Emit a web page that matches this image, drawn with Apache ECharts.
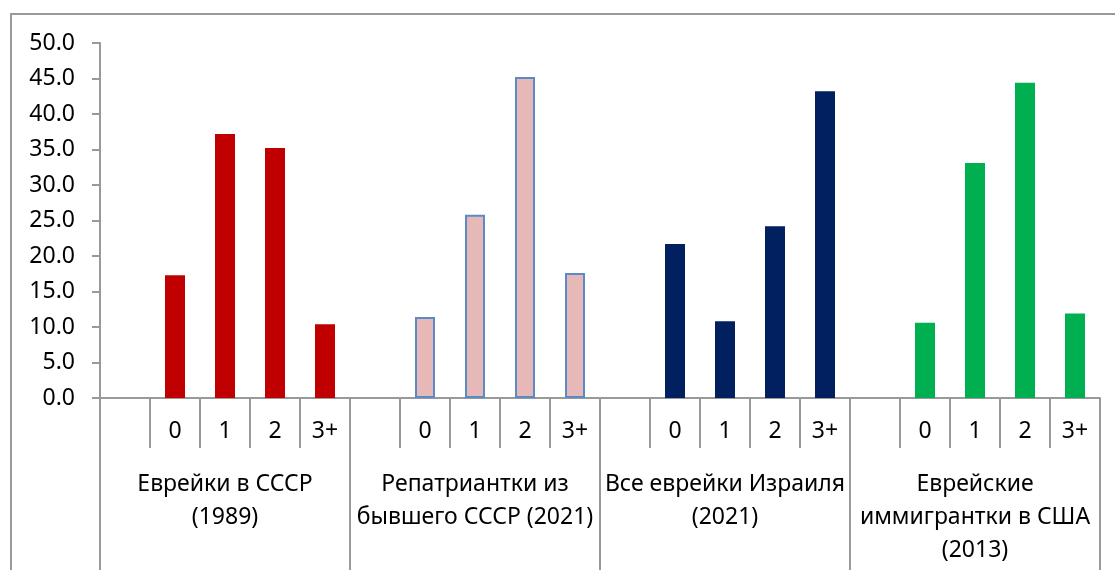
<!DOCTYPE html>
<html>
<head>
<meta charset="utf-8">
<script src="https://cdn.jsdelivr.net/npm/echarts@6/dist/echarts.min.js"></script>
<style>
html,body{margin:0;padding:0;background:#fff;}
#chart{width:1115px;height:570px;}
</style>
</head>
<body>
<div id="chart"></div>
<script>
var groups = ['Еврейки в СССР\n(1989)', 'Репатриантки из\nбывшего СССР (2021)', 'Все еврейки Израиля\n(2021)', 'Еврейские\nиммигрантки в США\n(2013)'];
var kids = ['', '0', '1', '2', '3+'];
var ussr1989 = [17.3, 37.2, 35.2, 10.4];
var repat2021 = [11.4, 25.8, 45.2, 17.6];
var israel2021 = [21.7, 10.8, 24.2, 43.2];
var usa2013 = [10.6, 33.1, 44.4, 11.9];
var yTicks = [0, 5, 10, 15, 20, 25, 30, 35, 40, 45, 50];

var colors = ['#C00000', '#E6B9B8', '#002060', '#00B050'];
var sets = [ussr1989, repat2021, israel2021, usa2013];
var font = 'Noto Sans';

// flat list of categories: each group has a blank slot + 0,1,2,3+
var cats = [];
groups.forEach(function (g, gi) {
    kids.forEach(function (k) { cats.push(k); });
});

var series = sets.map(function (vals, gi) {
    var d = cats.map(function () { return null; });
    vals.forEach(function (v, i) { d[gi * kids.length + 1 + i] = v; });
    var s = {
        type: 'bar',
        xAxisIndex: 0,
        data: d,
        barWidth: 20,
        barGap: '-100%',
        itemStyle: { color: colors[gi] }
    };
    if (gi == 1) {
        s.itemStyle.borderColor = '#5B8BC6';
        s.itemStyle.borderWidth = 2;
    }
    return s;
});

var chart = echarts.init(document.getElementById('chart'));
chart.setOption({
    animation: false,
    graphic: [{
        type: 'rect',
        shape: { x: 11, y: 14, width: 1300, height: 800 },
        style: { fill: 'none', stroke: '#999', lineWidth: 2 }
    }],
    grid: { left: 100, right: 15, top: 43, bottom: 172 },
    xAxis: [{
        type: 'category',
        data: cats,
        position: 'bottom',
        axisLine: { show: true, lineStyle: { color: '#999', width: 2 } },
        axisTick: { show: true, interval: 0, length: 50, lineStyle: { color: '#999', width: 2 } },
        axisLabel: { interval: 0, margin: 22, color: '#000', fontSize: 23, fontFamily: font }
    }, {
        type: 'category',
        data: groups,
        position: 'bottom',
        axisLine: { show: false },
        axisTick: { show: true, interval: 0, length: 172, lineStyle: { color: '#999', width: 2 } },
        axisLabel: { interval: 0, margin: 70, color: '#000', fontSize: 23, lineHeight: 33, verticalAlign: 'top', fontFamily: font }
    }],
    yAxis: {
        type: 'value',
        min: yTicks[0],
        max: yTicks[yTicks.length - 1],
        interval: yTicks[1] - yTicks[0],
        axisLine: { show: true, lineStyle: { color: '#999', width: 2 } },
        axisTick: { show: true, length: 8, lineStyle: { color: '#999', width: 2 } },
        splitLine: { show: false },
        axisLabel: {
            margin: 25, color: '#000', fontSize: 23, fontFamily: font,
            formatter: function (v) { return v.toFixed(1); }
        }
    },
    series: series
});
</script>
</body>
</html>
